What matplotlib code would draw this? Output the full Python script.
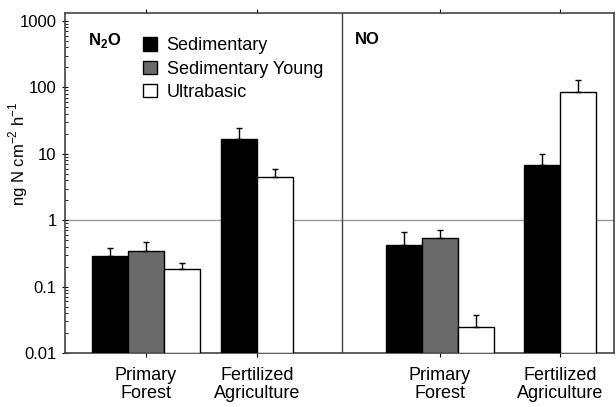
import matplotlib
matplotlib.use("Agg")
import matplotlib.pyplot as plt
import numpy as np

plt.rcParams['font.family'] = ['Liberation Sans', 'DejaVu Sans']

# data (ng N cm-2 h-1)
groups = ["Primary\nForest", "Fertilized\nAgriculture", "Primary\nForest", "Fertilized\nAgriculture"]
series = ["Sedimentary", "Sedimentary Young", "Ultrabasic"]
# one value per group, None where the soil type was not sampled
sed_vals = [0.29, 16.5, 0.43, 6.7]
sed_errs = [0.095, 8.2, 0.24, 3.2]
young_vals = [0.344, None, 0.53, None]
young_errs = [0.126, None, 0.17, None]
ultra_vals = [0.184, 4.52, 0.0244, 84.0]
ultra_errs = [0.04, 1.4, 0.0126, 45.0]

colors = ["black", "#6a6a6a", "white"]

#Layout: x in pixel-like units so that the two panels can sit side by side
centers = [146, 257, 439.5, 560]
width = 36
divider = 342
base = 0.01

fig = plt.figure(figsize=(6.16, 4.07), dpi=100)
ax = fig.add_axes([65/616, 54/407, 549/616, 340/407])

allvals = [sed_vals, young_vals, ultra_vals]
allerrs = [sed_errs, young_errs, ultra_errs]
for gi, c in enumerate(centers):
    present = [si for si in range(3) if allvals[si][gi] is not None]
    n = len(present)
    for k, si in enumerate(present):
        x = c + (k - (n - 1) / 2) * width
        v = allvals[si][gi]
        e = allerrs[si][gi]
        ax.bar(x, v - base, width=width, bottom=base, color=colors[si], edgecolor="black",
               linewidth=1.0, zorder=3, label=series[si] if gi == 0 else None)
        ax.errorbar(x, v, yerr=[[0], [e]], fmt="none", ecolor="black",
                    elinewidth=1.0, capsize=2, capthick=1.0, zorder=4)

ax.set_yscale("log")
ax.set_ylim(base, 1318)
ax.set_xlim(65, 614)
ax.axhline(1, color="#999999", linewidth=1.0, zorder=1)
ax.axvline(divider, color="#444444", linewidth=1.0, zorder=2)

ax.set_yticks([0.01, 0.1, 1, 10, 100, 1000])
ax.set_yticklabels(["0.01", "0.1", "1", "10", "100", "1000"], fontsize=12)
ax.tick_params(axis="y", which="major", direction="inout", length=5)
ax.tick_params(axis="y", which="minor", direction="in", length=2)
ax.set_xticks(centers)
ax.set_xticklabels(groups, fontsize=13, linespacing=1.1)
ax.tick_params(axis="x", which="both", direction="out", length=3, top=True, pad=7)

for s in ax.spines.values():
    s.set_color("#444444")
    s.set_linewidth(1.2)

fig.text(18/616, 1 - 154/407, "ng N cm$^{\\mathregular{-2}}$ h$^{\\mathregular{-1}}$",
         rotation=90, ha="center", va="center", fontsize=12)

ax.text(88, 0.92, "N$_\\mathregular{2}$O", transform=ax.get_xaxis_transform(),
        fontsize=12, fontweight="bold", va="center", ha="left")
ax.text(355, 0.923, "NO", transform=ax.get_xaxis_transform(),
        fontsize=12, fontweight="bold", va="center", ha="left")

ax.legend(loc="upper left", bbox_to_anchor=(71/549, 0.95), frameon=False,
          fontsize=13, handlelength=0.75, handleheight=0.75, handletextpad=0.55,
          labelspacing=0.35, borderaxespad=0)

fig.savefig("out.png", dpi=100)
